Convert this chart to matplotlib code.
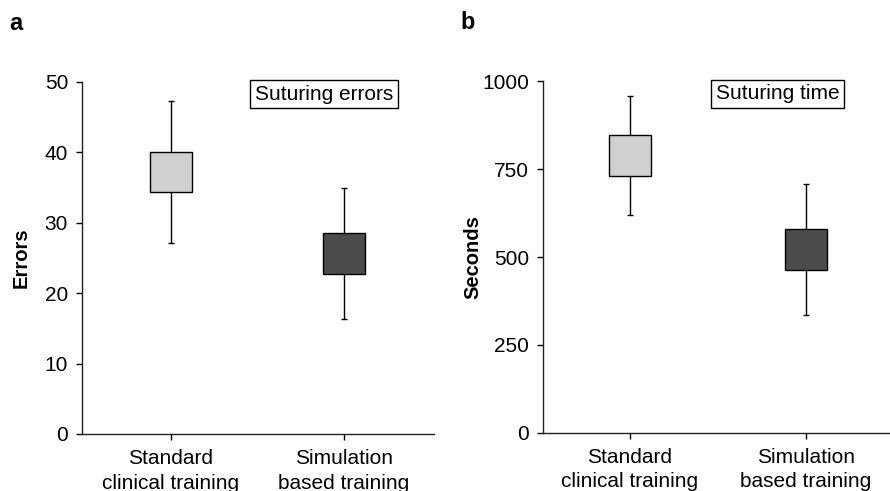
"""
Suturing errors and suturing time: standard clinical vs simulation based training.
"""

import matplotlib
matplotlib.use('Agg')
import matplotlib.pyplot as plt
from matplotlib.ticker import MultipleLocator

plt.rcParams['font.family'] = ['Liberation Sans', 'DejaVu Sans']

# Data
groups = ['Standard\nclinical training', 'Simulation\nbased training']
box_colors = ['#cfd0cf', '#4b4b4b']

# Panel a: suturing errors
errors_whisker_low = [27.1, 16.3]
errors_box_low = [34.3, 22.7]
errors_box_high = [40.1, 28.5]
errors_whisker_high = [47.3, 34.9]

# Panel b: suturing time (seconds)
time_whisker_low = [620, 336]
time_box_low = [731, 462]
time_box_high = [848, 579]
time_whisker_high = [959, 707]


def box_panel(ax, wlo, blo, bhi, whi, ylim, step, ylabel, label_x,
              title, title_x):
    x = list(range(len(groups)))
    # whiskers with small caps, drawn behind the boxes
    ax.errorbar(x, [(a + b) / 2 for a, b in zip(wlo, whi)],
                yerr=[[(b - a) / 2 for a, b in zip(wlo, whi)]] * 2,
                fmt='none', ecolor='black', elinewidth=1.0,
                capsize=2.5, capthick=1.0, zorder=1)
    ax.bar(x, [h - l for l, h in zip(blo, bhi)], bottom=blo, width=0.24,
           color=box_colors, edgecolor='black', linewidth=1.0, zorder=2)
    ax.set_xticks(x)
    ax.set_xticklabels(groups, fontsize=15, linespacing=1.35)
    ax.set_ylim(*ylim)
    ax.yaxis.set_major_locator(MultipleLocator(step))
    ax.tick_params(axis='y', labelsize=15, length=4, width=1.0, pad=6)
    ax.tick_params(axis='x', length=4, width=1.0, pad=7)
    ax.set_ylabel(ylabel, fontsize=14.5, fontweight='bold')
    ax.yaxis.set_label_coords(label_x, 0.5)
    for side in ('top', 'right'):
        ax.spines[side].set_visible(False)
    for side in ('left', 'bottom'):
        ax.spines[side].set_linewidth(1.0)
        ax.spines[side].set_color('#222222')
    ax.text(title_x, 0.965, title, transform=ax.transAxes, fontsize=15,
            ha='center', va='center',
            bbox=dict(boxstyle='square,pad=0.22', facecolor='white',
                      edgecolor='black', linewidth=1.0))


def main():
    fig = plt.figure(figsize=(8.9, 4.91), dpi=100)
    ax_a = fig.add_axes([0.0921, 0.1161, 0.3955, 0.717])
    ax_b = fig.add_axes([0.6098, 0.1187, 0.390, 0.7157])

    box_panel(ax_a, errors_whisker_low, errors_box_low, errors_box_high,
              errors_whisker_high, (0, 50), 10, 'Errors', -0.145,
              'Suturing errors', 0.6875)
    box_panel(ax_b, time_whisker_low, time_box_low, time_box_high,
              time_whisker_high, (0, 1000), 250, 'Seconds', -0.175,
              'Suturing time', 0.676)
    ax_a.set_xlim(-0.514, 1.52)
    ax_b.set_xlim(-0.496, 1.477)

    fig.text(0.018, 0.953, 'a', fontsize=17, fontweight='bold',
             ha='center', va='center')
    fig.text(0.525, 0.955, 'b', fontsize=17, fontweight='bold',
             ha='center', va='center')

    fig.savefig('out.png', dpi=100)
    plt.close(fig)


if __name__ == '__main__':
    main()
